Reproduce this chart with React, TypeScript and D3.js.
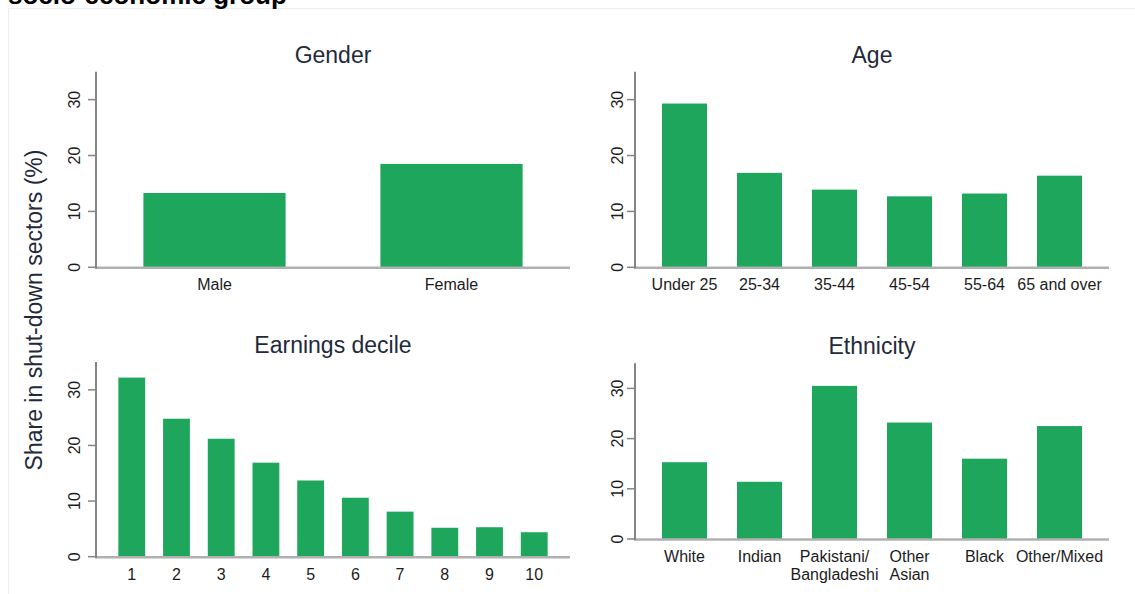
import React from "react";
import * as d3 from "d3";

const genderCats = ["Male", "Female"];
const genderVals = [13.3, 18.5];
const ageCats = ["Under 25", "25-34", "35-44", "45-54", "55-64", "65 and over"];
const ageVals = [29.3, 16.9, 13.9, 12.7, 13.2, 16.4];
const decileCats = ["1", "2", "3", "4", "5", "6", "7", "8", "9", "10"];
const decileVals = [32.2, 24.8, 21.2, 16.9, 13.7, 10.6, 8.1, 5.2, 5.3, 4.4];
const ethnicCats = ["White", "Indian", "Pakistani/\nBangladeshi", "Other\nAsian", "Black", "Other/Mixed"];
const ethnicVals = [15.3, 11.4, 30.5, 23.2, 16.0, 22.5];
const yTicks = [0, 10, 20, 30];
const yMax = 35;

const FONT = "'Liberation Sans', Arial, Helvetica, sans-serif";
const BAR = "#1fa65d";
const TITLE_COLOR = "#1f2a3a";
const LABEL_COLOR = "#1c1c1c";

type PanelProps = {
  title: string;
  cats: string[];
  vals: number[];
  x0: number;
  x1: number;
  y0: number;
  y1: number;
  outer: number;
  labelX: number;
};

function Panel({ title, cats, vals, x0, x1, y0, y1, outer, labelX }: PanelProps) {
  const x = d3.scaleBand<string>().domain(cats).range([x0, x1]).paddingInner(0.4).paddingOuter(outer);
  const y = d3.scaleLinear().domain([0, yMax]).range([y0, y1]);
  return (
    <g>
      <text x={(x0 + x1) / 2} y={y1 - 9} textAnchor="middle" fontSize={23} fill={TITLE_COLOR} fontFamily={FONT}>
        {title}
      </text>
      {cats.map((c, i) => (
        <rect key={c} x={x(c)} y={y(vals[i])} width={x.bandwidth()} height={y(0) - y(vals[i])} fill={BAR} />
      ))}
      <line x1={x0} x2={x1} y1={y0 + 0.5} y2={y0 + 0.5} stroke="#b0b0b0" strokeWidth={2.5} />
      <line x1={x0} x2={x0} y1={y1} y2={y0 + 1.5} stroke="#858585" strokeWidth={2} />
      {yTicks.map((t) => (
        <g key={t}>
          <line x1={x0 - 8} x2={x0} y1={y(t)} y2={y(t)} stroke="#858585" strokeWidth={1.5} />
          <text
            transform={`translate(${labelX},${y(t)}) rotate(-90)`}
            textAnchor="middle"
            fontSize={16}
            fill={LABEL_COLOR}
            fontFamily={FONT}
          >
            {t}
          </text>
        </g>
      ))}
      {cats.map((c) => {
        const lines = c.split("\n");
        const cx = (x(c) as number) + x.bandwidth() / 2;
        return (
          <text key={c} x={cx} y={y0 + 23} textAnchor="middle" fontSize={16} fill={LABEL_COLOR} fontFamily={FONT}>
            {lines.map((l, k) => (
              <tspan key={k} x={cx} dy={k === 0 ? 0 : 18}>
                {l}
              </tspan>
            ))}
          </text>
        );
      })}
    </g>
  );
}

export default function App() {
  return (
    <svg
      width={1135}
      height={594}
      style={{ position: "absolute", left: 0, top: 0, background: "#fff" }}
    >
      <rect x={8.5} y={8.5} width={1140} height={620} fill="#fff" stroke="#ededed" strokeWidth={1} />
      <text x={8} y={4} fontSize={26} fontWeight="bold" fill="#000" fontFamily={FONT}>
        socio-economic group
      </text>
      <text
        transform="translate(42,310) rotate(-90)"
        textAnchor="middle"
        fontSize={23}
        fill={TITLE_COLOR}
        fontFamily={FONT}
      >
        Share in shut-down sectors (%)
      </text>
      <Panel title="Gender" cats={genderCats} vals={genderVals} x0={96} x1={570} y0={267.3} y1={71.7} outer={0.2} labelX={80} />
      <Panel title="Age" cats={ageCats} vals={ageVals} x0={635} x1={1109} y0={267.3} y1={71.7} outer={0.36} labelX={623} />
      <Panel title="Earnings decile" cats={decileCats} vals={decileVals} x0={96} x1={570} y0={556.7} y1={362} outer={0.5} labelX={80} />
      <Panel title="Ethnicity" cats={ethnicCats} vals={ethnicVals} x0={635} x1={1109} y0={539} y1={363.3} outer={0.36} labelX={623} />
    </svg>
  );
}
